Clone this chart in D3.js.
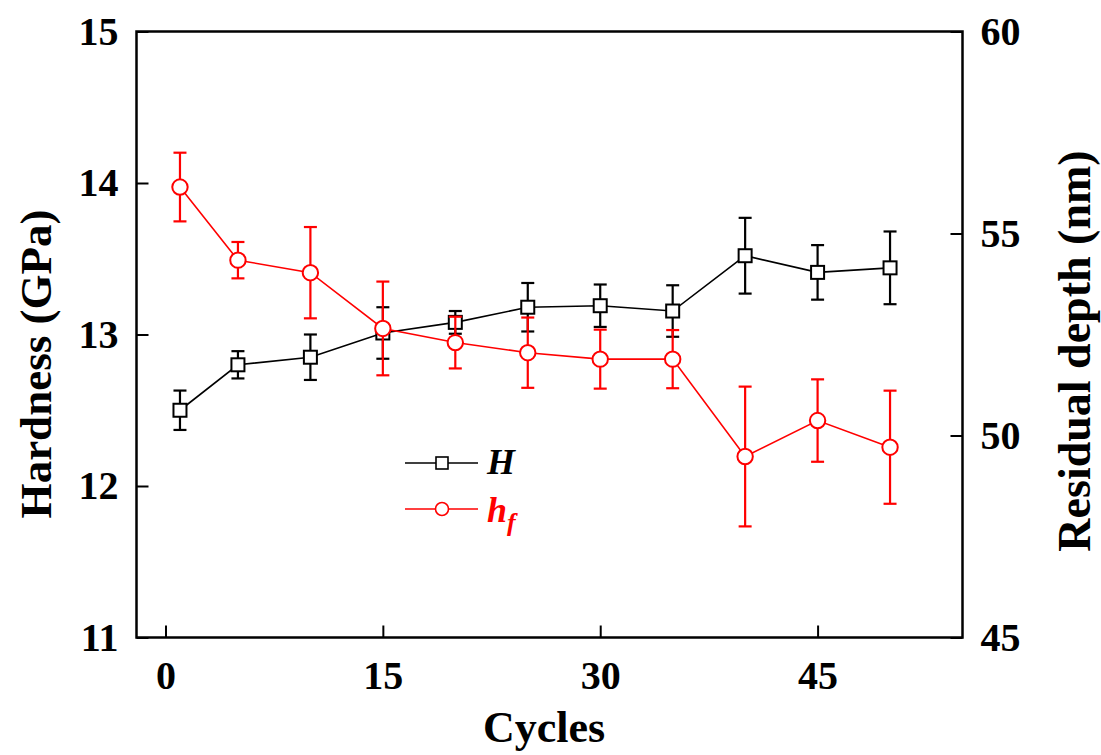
<!DOCTYPE html>
<html>
<head>
<meta charset="utf-8">
<script src="https://cdnjs.cloudflare.com/ajax/libs/d3/7.8.5/d3.min.js"></script>
<style>
  body { margin: 0; background: #fff; }
  text { font-family: "Liberation Serif", "Times New Roman", serif; font-weight: bold; }
</style>
</head>
<body>
<svg id="chart"></svg>
<script>
// values
const cycles = [1, 5, 10, 15, 20, 25, 30, 35, 40, 45, 50];
const hardness = [12.50, 12.80, 12.85, 13.01, 13.08, 13.18, 13.19, 13.155, 13.52, 13.41, 13.44];
const hardnessErr = [0.13, 0.09, 0.15, 0.17, 0.075, 0.16, 0.14, 0.17, 0.25, 0.18, 0.24];
const depth = [56.15, 54.34, 54.03, 52.65, 52.30, 52.05, 51.89, 51.89, 49.48, 50.37, 49.71];
const depthErr = [0.85, 0.45, 1.13, 1.16, 0.64, 0.87, 0.73, 0.72, 1.73, 1.02, 1.40];
const xTicks = [0, 15, 30, 45];
const hTicks = [11, 12, 13, 14, 15];
const dTicks = [45, 50, 55, 60];

const width = 1101, height = 755;
const margin = { top: 31.5, right: 138.5, bottom: 117.5, left: 136.5 };
const innerW = width - margin.left - margin.right;
const innerH = height - margin.top - margin.bottom;

const svg = d3.select('#chart').attr('width', width).attr('height', height);
const chart = svg.append('g').attr('transform', `translate(${margin.left}, ${margin.top})`);

const xscale = d3.scaleLinear().domain([-2, 55]).range([0, innerW]);
const yscale = d3.scaleLinear().domain([11, 15]).range([innerH, 0]);
const y2scale = d3.scaleLinear().domain([45, 60]).range([innerH, 0]);

const hData = cycles.map((c, i) => ({ x: c, y: hardness[i], e: hardnessErr[i] }));
const dData = cycles.map((c, i) => ({ x: c, y: depth[i], e: depthErr[i] }));

// axes, ticks pointing inward
const fmt = d3.format('d');
const xaxis = d3.axisBottom(xscale).tickValues(xTicks).tickFormat(fmt).tickSize(-12).tickSizeOuter(0).tickPadding(23);
const yaxis = d3.axisLeft(yscale).tickValues(hTicks).tickFormat(fmt).tickSize(-12).tickSizeOuter(0).tickPadding(18);
const y2axis = d3.axisRight(y2scale).tickValues(dTicks).tickFormat(fmt).tickSize(-12).tickSizeOuter(0).tickPadding(18);

function styleAxis(g) {
    g.select('.domain').remove();
    g.selectAll('.tick line').attr('stroke', '#000').attr('stroke-width', 2);
    g.selectAll('.tick text').attr('font-size', 40).attr('fill', '#000')
        .style('font-family', '"Liberation Serif", serif').style('font-weight', 'bold');
}

chart.append('g').attr('transform', `translate(0, ${innerH})`).call(xaxis).call(styleAxis);
chart.append('g').call(yaxis).call(styleAxis);
chart.append('g').attr('transform', `translate(${innerW}, 0)`).call(y2axis).call(styleAxis);

chart.append('rect')
    .attr('width', innerW).attr('height', innerH)
    .attr('fill', 'none').attr('stroke', '#000').attr('stroke-width', 2.5);

// axis titles
svg.append('text')
    .attr('transform', 'translate(51, 364) rotate(-90)')
    .attr('text-anchor', 'middle').attr('font-size', 45).text('Hardness (GPa)');
svg.append('text')
    .attr('transform', 'translate(1090, 351) rotate(-90)')
    .attr('text-anchor', 'middle').attr('font-size', 46).text('Residual depth (nm)');
svg.append('text')
    .attr('x', 544).attr('y', 742)
    .attr('text-anchor', 'middle').attr('font-size', 44).text('Cycles');

// series
function drawSeries(data, ys, color, shape) {
    const g = chart.append('g');
    const line = d3.line().x(d => xscale(d.x)).y(d => ys(d.y));
    g.append('path').attr('d', line(data))
        .attr('fill', 'none').attr('stroke', color).attr('stroke-width', 1.6);

    const bars = g.selectAll('.err').data(data).enter().append('g').attr('class', 'err')
        .attr('stroke', color).attr('stroke-width', 2.2);
    bars.append('line')
        .attr('x1', d => xscale(d.x)).attr('x2', d => xscale(d.x))
        .attr('y1', d => ys(d.y + d.e)).attr('y2', d => ys(d.y - d.e));
    bars.append('line')
        .attr('x1', d => xscale(d.x) - 6.5).attr('x2', d => xscale(d.x) + 6.5)
        .attr('y1', d => ys(d.y + d.e)).attr('y2', d => ys(d.y + d.e));
    bars.append('line')
        .attr('x1', d => xscale(d.x) - 6.5).attr('x2', d => xscale(d.x) + 6.5)
        .attr('y1', d => ys(d.y - d.e)).attr('y2', d => ys(d.y - d.e));

    if (shape === 'square') {
        g.selectAll('.mk').data(data).enter().append('rect').attr('class', 'mk')
            .attr('x', d => xscale(d.x) - 6.5).attr('y', d => ys(d.y) - 6.5)
            .attr('width', 13).attr('height', 13)
            .attr('fill', '#fff').attr('stroke', color).attr('stroke-width', 2);
    } else {
        g.selectAll('.mk').data(data).enter().append('circle').attr('class', 'mk')
            .attr('cx', d => xscale(d.x)).attr('cy', d => ys(d.y)).attr('r', 7.7)
            .attr('fill', '#fff').attr('stroke', color).attr('stroke-width', 2);
    }
}

drawSeries(hData, yscale, '#000', 'square');
drawSeries(dData, y2scale, '#ff0000', 'circle');

// legend
const legend = svg.append('g');
legend.append('line').attr('x1', 405).attr('x2', 478).attr('y1', 463).attr('y2', 463)
    .attr('stroke', '#000').attr('stroke-width', 1.6);
legend.append('rect').attr('x', 436).attr('y', 457).attr('width', 12).attr('height', 12)
    .attr('fill', '#fff').attr('stroke', '#000').attr('stroke-width', 1.6);
legend.append('text').attr('x', 487).attr('y', 474).attr('font-size', 36)
    .attr('font-style', 'italic').attr('fill', '#000').text('H');

legend.append('line').attr('x1', 405).attr('x2', 478).attr('y1', 509).attr('y2', 509)
    .attr('stroke', '#ff0000').attr('stroke-width', 1.6);
legend.append('circle').attr('cx', 442).attr('cy', 509).attr('r', 6.5)
    .attr('fill', '#fff').attr('stroke', '#ff0000').attr('stroke-width', 1.6);
const hf = legend.append('text').attr('x', 487).attr('y', 522).attr('font-size', 36)
    .attr('font-style', 'italic').attr('fill', '#ff0000');
hf.append('tspan').text('h');
hf.append('tspan').attr('font-size', 26).attr('dy', 9).text('f');
</script>
</body>
</html>
